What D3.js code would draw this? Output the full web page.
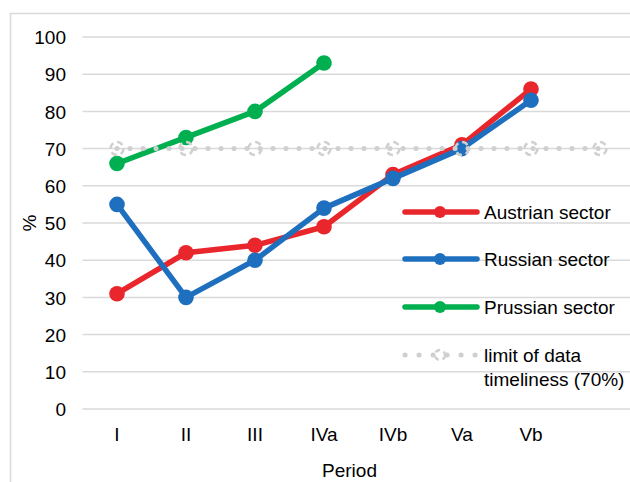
<!DOCTYPE html>
<html><head><meta charset="utf-8">
<script src="https://cdn.jsdelivr.net/npm/d3@7"></script>
<style>body{margin:0;background:#fff}svg{display:block}text{font-family:"Liberation Sans",Arial,sans-serif;fill:#000}</style>
</head><body>
<script>
const categories = ["I","II","III","IVa","IVb","Va","Vb",""];
const austrian = [31,42,44,49,63,71,86];
const russian = [55,30,40,54,62,70,83];
const prussian = [66,73,80,93];
const limit = [70,70,70,70,70,70,70,70];
const yTicks = [0,10,20,30,40,50,60,70,80,90,100];
const seriesNames = ["Austrian sector","Russian sector","Prussian sector"];
const seriesColors = ["#e8262b","#1f6fbf","#00b050"];

const W=630,H=482,FS=19;
const svg=d3.select("body").append("svg").attr("width",W).attr("height",H);
svg.append("rect").attr("x",10.5).attr("y",13.5).attr("width",700).attr("height",600).attr("fill","none").attr("stroke","#d9d9d9").attr("stroke-width",1.5);

const x=d3.scaleBand().domain(categories.map((c,i)=>i)).range([82.5,634.5]);
const y=d3.scaleLinear().domain([0,100]).range([409,37]);
const cx=i=>x(i)+x.bandwidth()/2;

// grid
svg.append("g").selectAll("line").data(yTicks).join("line")
  .attr("x1",82.5).attr("x2",640).attr("y1",d=>y(d)).attr("y2",d=>y(d))
  .attr("stroke","#d9d9d9").attr("stroke-width",1.5);

// y axis labels
const yAxis=d3.axisLeft(y).tickValues(yTicks).tickSize(0).tickPadding(0);
const gy=svg.append("g").attr("transform","translate(66,0)").call(yAxis);
gy.select(".domain").remove();
gy.selectAll("text").attr("font-size",FS).attr("font-family","Liberation Sans, Arial").attr("fill","#000").attr("dy","0.35em");

// x axis labels
const xAxis=d3.axisBottom(x).tickFormat(i=>categories[i]).tickSize(0).tickPadding(0);
const gx=svg.append("g").attr("transform","translate(0,427.5)").call(xAxis);
gx.select(".domain").remove();
gx.selectAll("text").attr("font-size",FS).attr("font-family","Liberation Sans, Arial").attr("fill","#000");

// axis titles
svg.append("text").attr("x",349.5).attr("y",477).attr("text-anchor","middle").attr("font-size",FS).text("Period");
svg.append("text").attr("transform","translate(36,223) rotate(-90)").attr("text-anchor","middle").attr("font-size",FS).text("%");

const line=d3.line().x((d,i)=>cx(i)).y(d=>y(d));
[austrian,russian,prussian].forEach((data,k)=>{
  const g=svg.append("g");
  g.append("path").datum(data).attr("d",line).attr("fill","none").attr("stroke",seriesColors[k]).attr("stroke-width",5.5).attr("stroke-linejoin","round");
  g.selectAll("circle").data(data).join("circle").attr("cx",(d,i)=>cx(i)).attr("cy",d=>y(d)).attr("r",7.8).attr("fill",seriesColors[k]);
});

// limit line
const lg=svg.append("g");
lg.append("path").datum(limit).attr("d",line).attr("fill","none").attr("stroke","#d0d0d0").attr("stroke-width",5).attr("stroke-linecap","round").attr("stroke-dasharray","0.1,12.9");
lg.selectAll("circle").data(limit).join("circle").attr("cx",(d,i)=>cx(i)).attr("cy",d=>y(d)).attr("r",6.5)
  .attr("fill","none").attr("stroke","#d0d0d0").attr("stroke-width",2.5).attr("stroke-dasharray","6,4");

// legend
const legY=[212,259,307];
seriesNames.forEach((n,k)=>{
  const g=svg.append("g");
  g.append("line").attr("x1",405).attr("x2",477).attr("y1",legY[k]).attr("y2",legY[k]).attr("stroke",seriesColors[k]).attr("stroke-width",5.5).attr("stroke-linecap","round");
  g.append("circle").attr("cx",440).attr("cy",legY[k]).attr("r",6).attr("fill",seriesColors[k]);
  g.append("text").attr("x",484).attr("y",legY[k]).attr("dy","0.35em").attr("font-size",FS).text(n);
});
const g4=svg.append("g");
g4.append("line").attr("x1",405).attr("x2",477).attr("y1",355).attr("y2",355).attr("stroke","#d0d0d0").attr("stroke-width",5).attr("stroke-linecap","round").attr("stroke-dasharray","0.1,13.9");
g4.append("circle").attr("cx",440).attr("cy",355).attr("r",5).attr("fill","none").attr("stroke","#d0d0d0").attr("stroke-width",2.5).attr("stroke-dasharray","5,4");
g4.append("text").attr("x",484).attr("y",355).attr("dy","0.35em").attr("font-size",FS).text("limit of data");
g4.append("text").attr("x",484).attr("y",379).attr("dy","0.35em").attr("font-size",FS).text("timeliness (70%)");
</script>
</body></html>
